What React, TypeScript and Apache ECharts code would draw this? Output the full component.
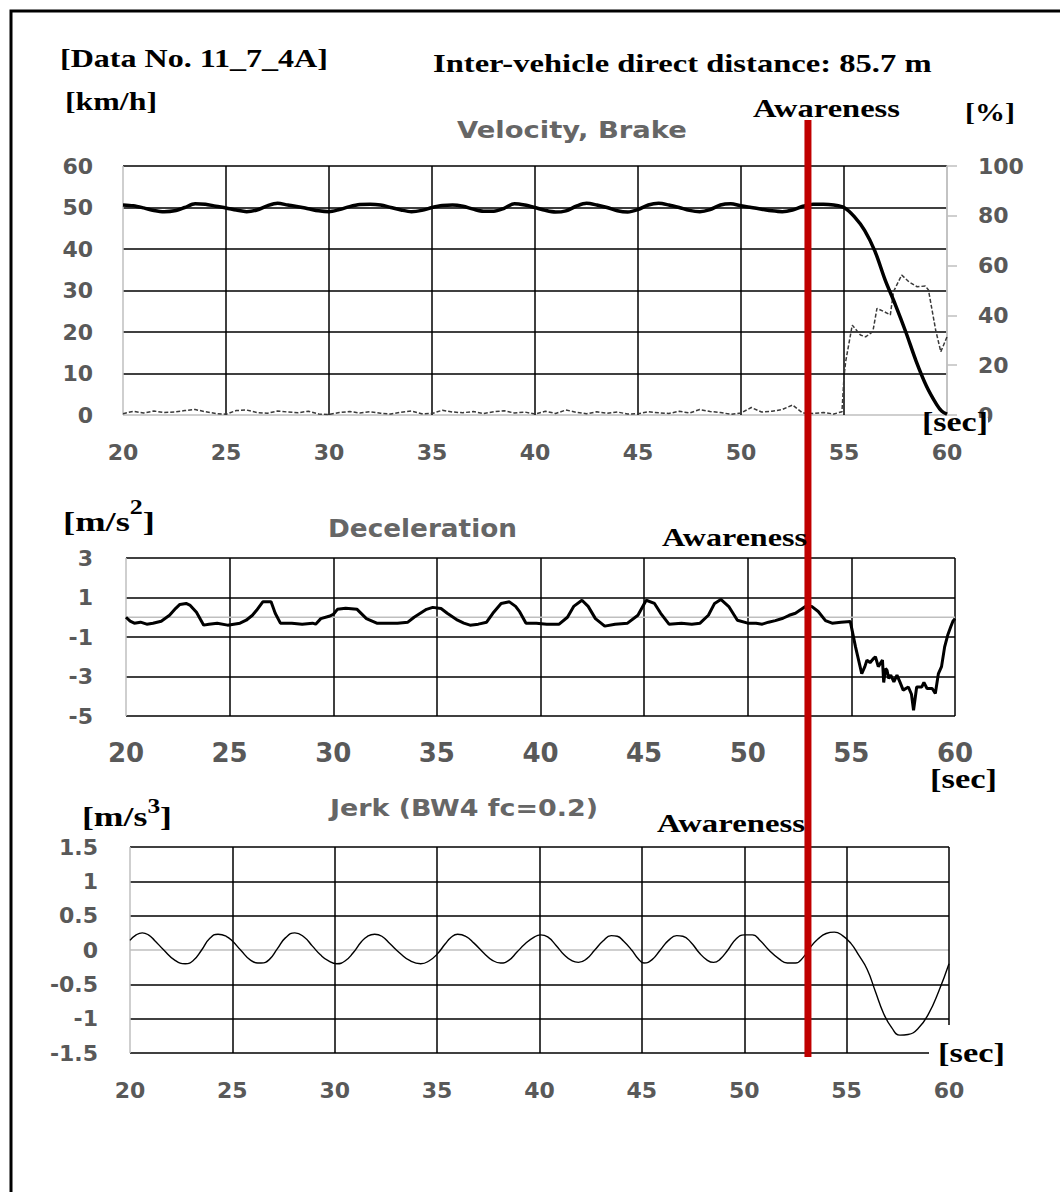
import React, { useEffect, useRef } from "react";
import * as echarts from "echarts";

// ---------- axis ranges / ticks ----------
const X_MIN = 20;
const X_MAX = 60;
const X_STEP = 5;
const VEL_AXIS = { min: 0, max: 60, interval: 10 };
const BRAKE_AXIS = { min: 0, max: 100, interval: 20 };
const DECEL_AXIS = { min: -5, max: 3, interval: 2 };
const JERK_AXIS = { min: -1.5, max: 1.5, interval: 0.5 };
const AWARENESS_T = 53.25;

// ---------- velocity [km/h] ----------
const velTime = [
  20, 20.5, 21, 21.5, 22, 22.5, 23, 23.5, 24, 24.5,
  25, 25.5, 26, 26.5, 27, 27.5, 28, 28.5, 29, 29.5,
  30, 30.5, 31, 31.5, 32, 32.5, 33, 33.5, 34, 34.5,
  35, 35.5, 36, 36.5, 37, 37.5, 38, 38.5, 39, 39.5,
  40, 40.5, 41, 41.5, 42, 42.5, 43, 43.5, 44, 44.5,
  45, 45.5, 46, 46.5, 47, 47.5, 48, 48.5, 49, 49.5,
  50, 50.5, 51, 51.5, 52, 52.5, 53, 53.5, 54, 54.5,
  55, 55.5, 56, 56.5, 57, 57.5, 58, 58.5, 59, 59.5, 59.75, 60,
];
const velValue = [
  50.6, 50.4, 49.9, 49.3, 49.0, 49.2, 50.0, 50.9, 50.8, 50.3,
  49.9, 49.4, 49.0, 49.4, 50.4, 51.0, 50.6, 50.2, 49.7, 49.2,
  49.0, 49.5, 50.2, 50.7, 50.8, 50.6, 50.0, 49.4, 49.0, 49.3,
  50.0, 50.5, 50.6, 50.3, 49.6, 49.1, 49.1, 49.8, 50.9, 50.6,
  50.0, 49.3, 48.9, 49.2, 50.3, 51.0, 50.6, 50.0, 49.2, 48.9,
  49.5, 50.6, 51.0, 50.6, 50.0, 49.3, 49.0, 49.5, 50.6, 50.9,
  50.4, 50.0, 49.6, 49.2, 49.0, 49.4, 50.3, 50.8, 50.8, 50.6,
  50.0, 47.8, 44.5, 39.5, 32.5, 26.5, 20.0, 13.0, 7.0, 2.5, 0.9, 0.2,
];

// ---------- brake [%] ----------
const brakeTime = [
  20, 20.5, 21, 21.5, 22, 22.5, 23, 23.5, 24, 24.5,
  25, 25.5, 26, 26.5, 27, 27.5, 28, 28.5, 29, 29.5,
  30, 30.5, 31, 31.5, 32, 32.5, 33, 33.5, 34, 34.5,
  35, 35.5, 36, 36.5, 37, 37.5, 38, 38.5, 39, 39.5,
  40, 40.5, 41, 41.5, 42, 42.5, 43, 43.5, 44, 44.5,
  45, 45.5, 46, 46.5, 47, 47.5, 48, 48.5, 49, 49.5,
  50, 50.5, 51, 51.5, 52, 52.5, 53, 53.5, 54, 54.5, 54.9,
  55.0, 55.08, 55.4, 55.8, 56.05, 56.4, 56.6, 56.95, 57.25, 57.4,
  57.8, 58.15, 58.55, 58.95, 59.1, 59.45, 59.7, 60,
];
const brakeValue = [
  0.5, 1.5, 0.8, 1.6, 1.0, 1.2, 1.8, 2.2, 1.3, 0.6,
  0.3, 1.8, 2.0, 1.0, 0.7, 1.6, 1.2, 0.9, 1.5, 0.4,
  0.2, 1.0, 1.4, 0.8, 1.3, 0.7, 0.4, 1.1, 1.6, 0.5,
  0.6, 1.9, 1.2, 0.9, 1.4, 0.6, 1.3, 1.7, 0.8, 1.2,
  0.4, 1.5, 0.6, 2.0, 1.1, 0.5, 1.3, 0.7, 1.2, 0.4,
  0.5, 1.3, 0.9, 0.6, 1.5, 0.8, 2.2, 1.4, 1.0, 0.3,
  0.8, 3.0, 1.2, 1.5, 2.2, 4.0, 0.8, 0.6, 1.0, 0.4, 1.3,
  15.4, 21.4, 36.1, 32.1, 31.4, 33.5, 42.8, 41.5, 40.2, 49.5,
  56.2, 53.5, 51.5, 51.8, 50.2, 34.1, 25.4, 31.4,
];

// ---------- deceleration [m/s2] ----------
const decelTime = [
  20.0, 20.2, 20.4, 20.7, 21.0, 21.3, 21.7, 22.1, 22.4, 22.6,
  22.9, 23.1, 23.4, 23.75, 24.0, 24.4, 24.9, 25.2, 25.5, 25.8,
  26.1, 26.3, 26.6, 27.0, 27.2, 27.45, 28.0, 28.5, 29.0, 29.15,
  29.4, 29.8, 30.0, 30.2, 30.6, 31.15, 31.6, 32.1, 32.6, 33.1,
  33.6, 33.9, 34.2, 34.5, 34.8, 35.2, 35.5, 36.0, 36.3, 36.6,
  37.0, 37.4, 37.7, 38.1, 38.5, 38.8, 39.0, 39.3, 39.8, 40.3,
  40.9, 41.3, 41.6, 42.0, 42.3, 42.65, 43.1, 43.6, 44.2, 44.7,
  45.1, 45.5, 45.8, 46.2, 46.8, 47.3, 47.7, 48.1, 48.4, 48.7,
  49.1, 49.5, 50.0, 50.4, 50.7, 51.0, 51.33, 51.7, 52.0, 52.3,
  52.78, 53.1, 53.4, 53.75, 54.07, 54.5, 54.95, 55.2, 55.5, 55.65,
  55.75, 55.9, 56.08, 56.16, 56.3, 56.5, 56.56, 56.65, 56.72, 56.8,
  56.9, 57.05, 57.2, 57.35, 57.5, 57.75, 57.9, 58.0, 58.15, 58.4,
  58.5, 58.65, 58.9, 59.05, 59.2, 59.35, 59.5, 59.65, 59.8, 59.9, 60.0,
];
const decelValue = [
  0.0, -0.2, -0.3, -0.25, -0.35, -0.3, -0.2, 0.1, 0.45, 0.65,
  0.7, 0.6, 0.25, -0.4, -0.35, -0.3, -0.4, -0.35, -0.3, -0.15,
  0.1, 0.35, 0.78, 0.78, 0.2, -0.3, -0.3, -0.35, -0.3, -0.35,
  -0.07, 0.05, 0.14, 0.4, 0.45, 0.4, -0.07, -0.3, -0.3, -0.3,
  -0.25, 0.0, 0.2, 0.4, 0.5, 0.44, 0.2, -0.15, -0.3, -0.4,
  -0.35, -0.25, 0.2, 0.7, 0.78, 0.55, 0.27, -0.3, -0.3, -0.35,
  -0.35, 0.0, 0.55, 0.86, 0.55, -0.07, -0.45, -0.35, -0.3, 0.1,
  0.86, 0.7, 0.2, -0.35, -0.3, -0.35, -0.3, 0.1, 0.7, 0.9,
  0.52, -0.15, -0.3, -0.3, -0.35, -0.25, -0.17, -0.05, 0.1, 0.2,
  0.54, 0.54, 0.29, -0.17, -0.3, -0.25, -0.22, -1.5, -2.85, -2.5,
  -2.17, -2.3, -2.08, -2.0, -2.5, -2.17, -3.3, -2.6, -2.68, -3.1,
  -2.93, -3.27, -2.93, -3.3, -3.69, -3.53, -3.9, -4.71, -3.53, -3.53,
  -3.3, -3.61, -3.61, -3.86, -2.85, -2.5, -1.5, -0.9, -0.47, -0.2, -0.07,
];

// ---------- jerk [m/s3] ----------
const jerkTime = [
  20.0, 20.3, 20.6, 20.9, 21.2, 21.65, 22.2, 22.7, 23.1, 23.5,
  23.9, 24.3, 24.7, 25.0, 25.4, 25.9, 26.4, 26.8, 27.2, 27.6,
  28.05, 28.5, 28.9, 29.3, 29.7, 30.1, 30.5, 30.9, 31.3, 31.6,
  31.95, 32.3, 32.7, 33.2, 33.7, 34.2, 34.6, 35.0, 35.4, 35.7,
  36.0, 36.4, 36.8, 37.3, 37.7, 38.1, 38.5, 38.9, 39.3, 39.7,
  40.05, 40.4, 40.8, 41.2, 41.6, 41.9, 42.3, 42.7, 43.1, 43.5,
  43.8, 44.1, 44.5, 44.8, 45.1, 45.5, 45.9, 46.3, 46.7, 47.0,
  47.4, 47.8, 48.2, 48.5, 48.8, 49.2, 49.6, 50.0, 50.4, 50.8,
  51.2, 51.7, 52.1, 52.5, 52.9, 53.2, 53.6, 54.0, 54.4, 54.8,
  55.2, 55.6, 56.0, 56.4, 56.8, 57.2, 57.6, 58.0, 58.5, 59.0,
  59.5, 60.0,
];
const jerkValue = [
  0.14, 0.22, 0.25, 0.22, 0.14, 0.0, -0.15, -0.2, -0.15, 0.0,
  0.17, 0.23, 0.2, 0.13, 0.0, -0.15, -0.19, -0.14, 0.02, 0.18,
  0.25, 0.19, 0.06, -0.07, -0.16, -0.2, -0.16, -0.04, 0.12, 0.2,
  0.23, 0.2, 0.09, -0.05, -0.16, -0.2, -0.16, -0.06, 0.09, 0.19,
  0.23, 0.2, 0.1, -0.05, -0.15, -0.19, -0.15, -0.03, 0.09, 0.18,
  0.22, 0.19, 0.07, -0.07, -0.16, -0.18, -0.13, 0.0, 0.13, 0.21,
  0.2, 0.13, 0.0, -0.12, -0.19, -0.14, 0.0, 0.14, 0.21, 0.2,
  0.11, -0.04, -0.15, -0.18, -0.14, 0.0, 0.16, 0.22, 0.22, 0.13,
  0.0, -0.13, -0.19, -0.19, -0.1, 0.03, 0.16, 0.24, 0.26, 0.21,
  0.1, -0.08, -0.28, -0.6, -0.92, -1.13, -1.24, -1.23, -1.14, -0.93,
  -0.6, -0.2,
];

const zip = (t: number[], v: number[]) => t.map((x, i) => [x, v[i]]);

// ---------- layout ----------
const G1 = { left: 123, top: 166, width: 824, height: 249 };
const G2 = { left: 126, top: 558, width: 829, height: 158 };
const G3 = { left: 130, top: 847, width: 819, height: 206 };

const SERIF = '"Liberation Serif", "Times New Roman", serif';
const SANS = '"DejaVu Sans", Verdana, sans-serif';
const GRID_GREY = "#bfbfbf";
const LABEL_GREY = "#595959";
const TITLE_GREY = "#666666";

let measureCtx: CanvasRenderingContext2D | null = null;
function measure(text: string, size: number, family: string, weight = "bold") {
  if (!measureCtx) measureCtx = document.createElement("canvas").getContext("2d");
  if (!measureCtx) return text.length * size * 0.5;
  measureCtx.font = `${weight} ${size}px ${family}`;
  return measureCtx.measureText(text).width;
}

function txt(text: string, x: number, y: number, w: number, size: number, family: string, color: string) {
  const nat = measure(text, size, family);
  return {
    type: "text",
    x,
    y,
    scaleX: w / nat,
    z: 100,
    style: {
      text,
      fontSize: size,
      fontFamily: family,
      fontWeight: "bold",
      fill: color,
      align: "left",
      verticalAlign: "middle",
    },
  };
}

function unitSup(base: string, sup: string, x: number, y: number, w: number, size: number, supSize: number, supY: number) {
  const a = measure(base, size, SERIF);
  const b = measure(sup, supSize, SERIF);
  const c = measure("]", size, SERIF);
  const s = w / (a + b + c);
  const mk = (t: string, xx: number, yy: number, fs: number) => ({
    type: "text",
    x: xx,
    y: yy,
    scaleX: s,
    z: 100,
    style: { text: t, fontSize: fs, fontFamily: SERIF, fontWeight: "bold", fill: "#000", align: "left", verticalAlign: "middle" },
  });
  return [mk(base, x, y, size), mk(sup, x + a * s, supY, supSize), mk("]", x + (a + b) * s, y, size)];
}

const splitColors = (n: number, greyIdx: number[]) =>
  Array.from({ length: n }, (_, i) => (greyIdx.includes(i) ? GRID_GREY : "#000000"));

const labelStyle = (size: number, margin: number) => ({
  fontSize: size,
  fontWeight: "bold",
  color: LABEL_GREY,
  fontFamily: SANS,
  margin,
});

function xAxisDef(gridIndex: number, size: number, margin: number, greyIdx: number[]) {
  return {
    gridIndex,
    type: "value",
    min: X_MIN,
    max: X_MAX,
    interval: X_STEP,
    axisLine: { show: false },
    axisTick: { show: false },
    axisLabel: labelStyle(size, margin),
    splitLine: { show: true, lineStyle: { color: splitColors(9, greyIdx), width: 1.5 } },
  };
}

export default function App() {
  const ref = useRef<HTMLDivElement>(null);
  useEffect(() => {
    if (!ref.current) return;
    const chart = echarts.init(ref.current, undefined, { renderer: "svg" });

    const redX = G1.left + ((AWARENESS_T - X_MIN) / (X_MAX - X_MIN)) * G1.width;

    const graphics: any[] = [
      { type: "rect", z: 80, shape: { x: 11, y: 11, width: 1100, height: 1300 }, style: { fill: "none", stroke: "#000", lineWidth: 3 } },
      // white boxes behind "[sec]" labels
      { type: "rect", z: 95, shape: { x: 920, y: 418, width: 68, height: 24 }, style: { fill: "#fff" } },
      { type: "rect", z: 95, shape: { x: 929, y: 1025, width: 90, height: 45 }, style: { fill: "#fff" } },
      // awareness marker
      { type: "line", z: 90, shape: { x1: redX, y1: 120, x2: redX, y2: 1057 }, style: { stroke: "#C00000", lineWidth: 7 } },
      txt("[Data No. 11_7_4A]", 60, 58, 268, 26, SERIF, "#000"),
      txt("Inter-vehicle direct distance: 85.7 m", 433, 63, 499, 25, SERIF, "#000"),
      txt("[km/h]", 65, 101, 92, 26, SERIF, "#000"),
      txt("Velocity, Brake", 457, 130, 230, 23, SANS, TITLE_GREY),
      txt("Awareness", 753, 108, 147, 26, SERIF, "#000"),
      txt("[%]", 965, 112, 50, 26, SERIF, "#000"),
      txt("[sec]", 922, 422, 66, 27, SERIF, "#000"),
      ...unitSup("[m/s", "2", 63, 522, 92, 28, 20, 507),
      txt("Deceleration", 328, 528, 189, 25, SANS, TITLE_GREY),
      txt("Awareness", 662, 537, 145, 26, SERIF, "#000"),
      txt("[sec]", 930, 779, 67, 27, SERIF, "#000"),
      ...unitSup("[m/s", "3", 82, 816, 90, 28, 20, 806),
      txt("Jerk (BW4 fc=0.2)", 330, 808, 268, 23, SANS, TITLE_GREY),
      txt("Awareness", 657, 823, 148, 26, SERIF, "#000"),
      txt("[sec]", 938, 1053, 67, 27, SERIF, "#000"),
    ];

    const option: any = {
      animation: false,
      backgroundColor: "#ffffff",
      textStyle: { fontFamily: SANS },
      grid: [
        { ...G1, containLabel: false },
        { ...G2, containLabel: false },
        { ...G3, containLabel: false },
      ],
      xAxis: [
        xAxisDef(0, 22, 26, [0, 8]),
        xAxisDef(1, 26, 24, [0]),
        xAxisDef(2, 22, 26, [0]),
      ],
      yAxis: [
        {
          gridIndex: 0,
          type: "value",
          position: "left",
          ...VEL_AXIS,
          axisLine: { show: false },
          axisTick: { show: false },
          axisLabel: labelStyle(22, 30),
          splitLine: { show: true, lineStyle: { color: splitColors(7, [0]), width: 1.5 } },
        },
        {
          gridIndex: 0,
          type: "value",
          position: "right",
          ...BRAKE_AXIS,
          axisLine: { show: true, lineStyle: { color: GRID_GREY, width: 1.5 } },
          axisTick: { show: true, inside: false, length: 10, lineStyle: { color: GRID_GREY, width: 1.5 } },
          axisLabel: { ...labelStyle(22, 31), align: "left" },
          splitLine: { show: false },
        },
        {
          gridIndex: 1,
          type: "value",
          ...DECEL_AXIS,
          axisLine: { show: false },
          axisTick: { show: false },
          axisLabel: labelStyle(22, 33),
          splitLine: { show: true, lineStyle: { color: "#000", width: 1.5 } },
        },
        {
          gridIndex: 2,
          type: "value",
          ...JERK_AXIS,
          axisLine: { show: false },
          axisTick: { show: false },
          axisLabel: labelStyle(22, 32),
          splitLine: { show: true, lineStyle: { color: splitColors(7, [3]), width: 1.5 } },
        },
      ],
      series: [
        {
          name: "Velocity",
          type: "line",
          xAxisIndex: 0,
          yAxisIndex: 0,
          data: zip(velTime, velValue),
          symbol: "none",
          smooth: 0.3,
          lineStyle: { color: "#000", width: 3.5 },
          z: 3,
        },
        {
          name: "Brake",
          type: "line",
          xAxisIndex: 0,
          yAxisIndex: 1,
          data: zip(brakeTime, brakeValue),
          symbol: "none",
          lineStyle: { color: "#3a3a3a", width: 1.5, type: [4, 2] },
          z: 2,
        },
        {
          name: "zero",
          type: "line",
          xAxisIndex: 1,
          yAxisIndex: 2,
          data: [[X_MIN, 0], [X_MAX, 0]],
          symbol: "none",
          silent: true,
          lineStyle: { color: GRID_GREY, width: 1.5 },
          z: 1,
        },
        {
          name: "Deceleration",
          type: "line",
          xAxisIndex: 1,
          yAxisIndex: 2,
          data: zip(decelTime, decelValue),
          symbol: "none",
          lineStyle: { color: "#000", width: 3 },
          z: 3,
        },
        {
          name: "Jerk",
          type: "line",
          xAxisIndex: 2,
          yAxisIndex: 3,
          data: zip(jerkTime, jerkValue),
          symbol: "none",
          smooth: 0.5,
          lineStyle: { color: "#000", width: 1.4 },
          z: 3,
        },
      ],
      graphic: graphics,
    };

    chart.setOption(option);
    return () => chart.dispose();
  }, []);

  return (
    <div
      ref={ref}
      style={{ position: "fixed", left: 0, top: 0, width: 1060, height: 1192, background: "#fff" }}
    />
  );
}
